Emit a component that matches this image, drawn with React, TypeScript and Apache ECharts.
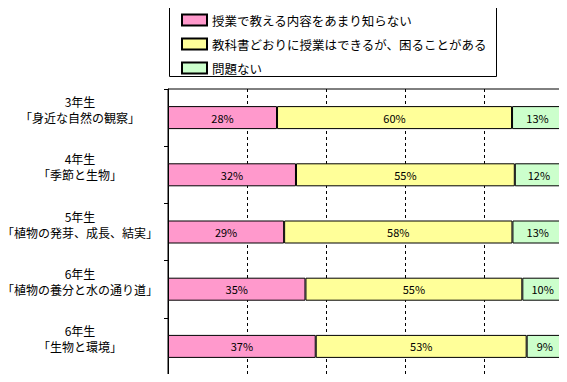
import React, { useEffect, useRef } from "react";
import * as echarts from "echarts";

const grades = ["3年生", "4年生", "5年生", "6年生", "6年生"];
const topics = [
  "「身近な自然の観察」",
  "「季節と生物」",
  "「植物の発芽、成長、結実」",
  "「植物の養分と水の通り道」",
  "「生物と環境」",
];
const seriesNames = [
  "授業で教える内容をあまり知らない",
  "教科書どおりに授業はできるが、困ることがある",
  "問題ない",
];
const dontKnow = [27.6, 32.4, 29.4, 34.8, 37.4];
const sometimes = [59.5, 55.4, 57.8, 54.9, 53.4];
const noProblem = [12.9, 12.2, 12.8, 10.3, 9.2];
const colors = ["#FF99CC", "#FFFF99", "#CCFFCC"];
const xTicks = [0, 20, 40, 60, 80, 100];

const FONT = "'Noto Sans CJK JP', 'Noto Sans', sans-serif";

export default function App() {
  const ref = useRef<HTMLDivElement>(null);
  useEffect(() => {
    if (!ref.current) return;
    const chart = echarts.init(ref.current, null, { renderer: "svg" });
    const cats = grades.map((g, i) => g + "\n" + topics[i]);
    const values = [dontKnow, sometimes, noProblem];
    chart.setOption({
      animation: false,
      backgroundColor: "#fff",
      textStyle: { fontFamily: FONT },
      graphic: [
        {
          type: "rect",
          shape: { x: 169.5, y: 4.5, width: 327, height: 72 },
          style: { fill: "#fff", stroke: "#000", lineWidth: 1 },
          z: -1,
        },
      ],
      legend: {
        orient: "vertical",
        left: 176,
        top: 8.5,
        itemWidth: 25,
        itemHeight: 11,
        itemGap: 11,
        icon: "rect",
        textStyle: { fontSize: 12.5, color: "#000", fontFamily: FONT },
        data: seriesNames,
      },
      grid: {
        left: 168,
        top: 89,
        right: 4,
        bottom: 7,
        show: true,
        borderColor: "#000",
        borderWidth: 1,
        backgroundColor: "#fff",
        outerBoundsMode: "none",
      },
      xAxis: {
        type: "value",
        min: xTicks[0],
        max: xTicks[xTicks.length - 1],
        interval: 20,
        axisLabel: { show: false },
        axisTick: { show: false },
        axisLine: { show: true, lineStyle: { color: "#000" } },
        splitLine: {
          show: true,
          lineStyle: { color: "#000", type: [3, 3], width: 1 },
        },
      },
      yAxis: {
        type: "category",
        inverse: true,
        data: cats,
        axisLine: { show: true, lineStyle: { color: "#000" } },
        axisTick: { show: true, length: 4, lineStyle: { color: "#000" } },
        axisLabel: {
          align: "center",
          margin: 88,
          fontSize: 12,
          lineHeight: 16,
          color: "#000",
          fontFamily: FONT,
          formatter: (v: string) => v + "\n ",
        },
      },
      series: seriesNames.map((name, si) => ({
        name,
        type: "bar",
        stack: "total",
        barWidth: 23,
        data: values[si],
        itemStyle: { color: colors[si], borderColor: "#000", borderWidth: 1 },
        label: {
          show: true,
          position: "inside",
          color: "#000",
          fontSize: 11,
          fontFamily: FONT,
          formatter: (p: any) => Math.round(p.value) + "%",
        },
      })),
    });
    return () => chart.dispose();
  }, []);
  return <div ref={ref} style={{ width: 567, height: 382, margin: -8 }} />;
}
